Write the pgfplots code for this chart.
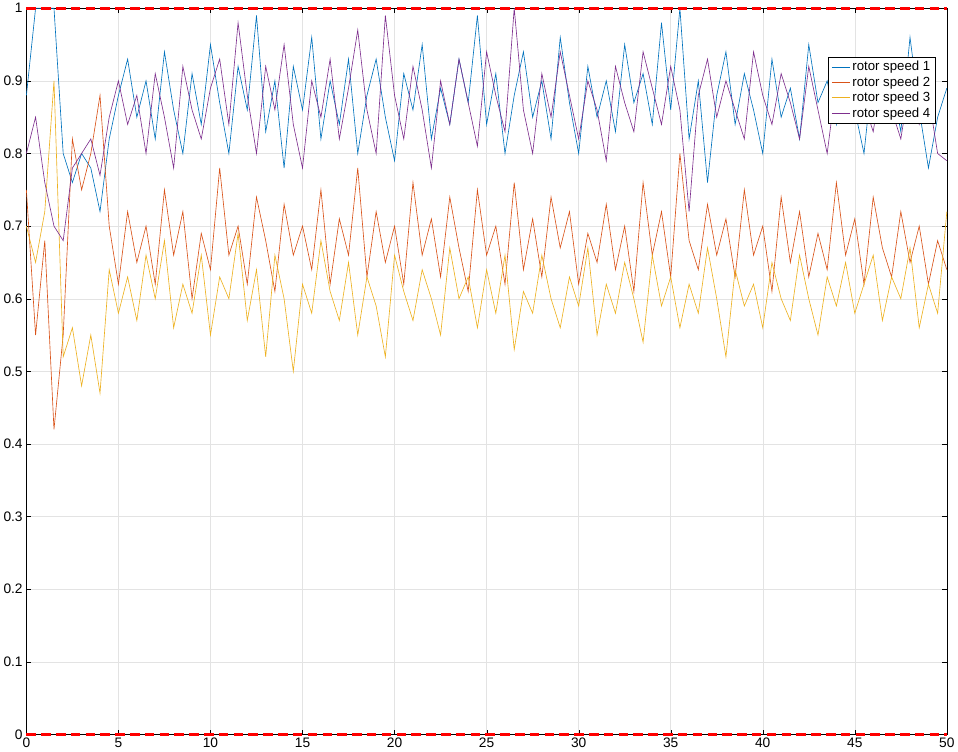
\documentclass[border=0pt]{standalone}
\usepackage{pgfplots}
\usepackage{pgfplotstable}
\pgfplotsset{compat=1.18}
\usepackage{fontspec}
\setmainfont{Liberation Sans}
\definecolor{c1}{rgb}{0,0.447,0.741}
\definecolor{c2}{rgb}{0.851,0.325,0.098}
\definecolor{c3}{rgb}{0.929,0.694,0.125}
\definecolor{c4}{rgb}{0.494,0.184,0.556}
\pgfplotstableread{
a b c d
0.88 0.75 0.70 0.80
1.00 0.55 0.65 0.85
1.00 0.68 0.72 0.76
1.00 0.42 0.90 0.70
0.80 0.55 0.52 0.68
0.76 0.82 0.56 0.78
0.80 0.75 0.48 0.80
0.78 0.80 0.55 0.82
0.72 0.88 0.47 0.77
0.82 0.70 0.64 0.85
0.88 0.62 0.58 0.90
0.93 0.72 0.63 0.84
0.85 0.65 0.57 0.88
0.90 0.70 0.66 0.80
0.82 0.62 0.60 0.91
0.94 0.75 0.68 0.85
0.86 0.66 0.56 0.78
0.80 0.72 0.62 0.92
0.91 0.60 0.58 0.86
0.84 0.69 0.66 0.82
0.95 0.64 0.55 0.89
0.87 0.78 0.63 0.93
0.80 0.66 0.60 0.84
0.92 0.70 0.69 0.98
0.86 0.62 0.57 0.88
0.99 0.74 0.64 0.80
0.83 0.68 0.52 0.92
0.90 0.61 0.66 0.86
0.78 0.73 0.60 0.95
0.92 0.66 0.50 0.84
0.86 0.70 0.62 0.78
0.96 0.64 0.58 0.90
0.82 0.75 0.68 0.85
0.90 0.62 0.61 0.93
0.84 0.71 0.57 0.82
0.93 0.66 0.65 0.89
0.80 0.78 0.55 0.97
0.88 0.63 0.63 0.86
0.93 0.72 0.59 0.80
0.85 0.65 0.52 0.99
0.79 0.70 0.66 0.88
0.91 0.62 0.61 0.82
0.86 0.76 0.57 0.92
0.95 0.66 0.64 0.86
0.82 0.71 0.60 0.78
0.89 0.63 0.55 0.90
0.84 0.74 0.67 0.84
0.93 0.67 0.60 0.93
0.87 0.61 0.63 0.87
0.99 0.75 0.56 0.81
0.84 0.66 0.64 0.94
0.91 0.70 0.58 0.88
0.80 0.62 0.66 0.83
0.88 0.76 0.53 1.00
0.94 0.64 0.61 0.86
0.85 0.71 0.58 0.80
0.90 0.63 0.66 0.91
0.82 0.74 0.60 0.85
0.96 0.67 0.56 0.94
0.87 0.72 0.63 0.88
0.80 0.62 0.59 0.82
0.92 0.69 0.67 0.90
0.85 0.65 0.55 0.86
0.90 0.73 0.62 0.79
0.83 0.64 0.58 0.92
0.95 0.70 0.65 0.87
0.87 0.61 0.60 0.83
0.91 0.76 0.54 0.94
0.84 0.66 0.66 0.89
0.98 0.72 0.59 0.84
0.86 0.63 0.63 0.92
1.00 0.80 0.56 0.86
0.82 0.68 0.62 0.72
0.90 0.64 0.58 0.88
0.76 0.73 0.67 0.93
0.88 0.66 0.60 0.85
0.94 0.71 0.52 0.90
0.84 0.63 0.64 0.86
0.91 0.75 0.59 0.82
0.86 0.66 0.62 0.94
0.80 0.70 0.56 0.88
0.93 0.61 0.65 0.84
0.85 0.74 0.60 0.91
0.89 0.65 0.57 0.87
0.82 0.72 0.66 0.82
0.95 0.63 0.60 0.92
0.87 0.69 0.55 0.86
0.90 0.64 0.63 0.80
0.84 0.76 0.59 0.90
0.93 0.66 0.65 0.85
0.86 0.71 0.58 0.93
0.80 0.62 0.62 0.87
0.92 0.74 0.66 0.83
0.85 0.67 0.57 0.91
0.90 0.63 0.63 0.86
0.83 0.72 0.60 0.82
0.96 0.65 0.67 0.90
0.86 0.70 0.56 0.84
0.78 0.62 0.62 0.88
0.85 0.68 0.58 0.80
0.89 0.64 0.72 0.79
}\data
\begin{document}
\begin{tikzpicture}
\begin{axis}[
  scale only axis, width=867bp, height=684bp,
  xmin=0, xmax=50, ymin=0, ymax=1,
  xtick={0,5,...,50}, ytick={0,0.1,...,1},
  yticklabels={0,0.1,0.2,0.3,0.4,0.5,0.6,0.7,0.8,0.9,1},
  grid=major, grid style={gray!22},
  tick align=inside, tick style={black},
  ticklabel style={font=\fontsize{13}{15}\selectfont},
  /pgf/number format/assume math mode=true,
  clip=false,
  legend style={at={(0.988,0.933)},anchor=north east, font=\fontsize{12.5}{15}\selectfont, cells={anchor=west}, draw=black},
  legend cell align=left,
]
\addplot[c1, line width=0.6pt] table[x expr=\coordindex*0.5, y=a] {\data};
\addplot[c2, line width=0.6pt] table[x expr=\coordindex*0.5, y=b] {\data};
\addplot[c3, line width=0.6pt] table[x expr=\coordindex*0.5, y=c] {\data};
\addplot[c4, line width=0.6pt] table[x expr=\coordindex*0.5, y=d] {\data};
\legend{rotor speed 1,rotor speed 2,rotor speed 3,rotor speed 4}
\addplot[red, line width=2.5pt, dash pattern=on 9pt off 5pt, forget plot] coordinates {(0,1) (50,1)};
\addplot[red, line width=2.5pt, dash pattern=on 9pt off 5pt, forget plot] coordinates {(0,0) (50,0)};
\end{axis}
\end{tikzpicture}
\end{document}
